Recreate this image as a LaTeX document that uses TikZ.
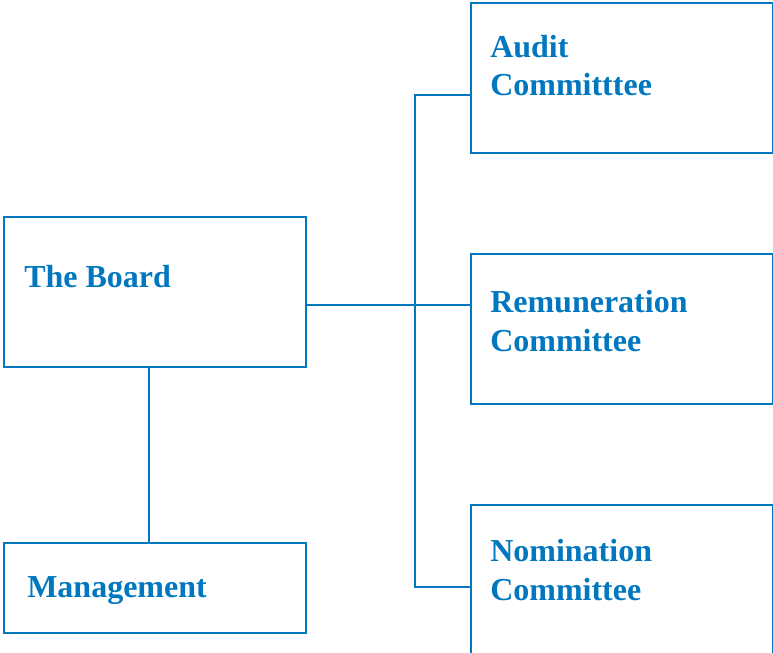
\documentclass[tikz,border=0pt]{standalone}
\usepackage{fontspec}
\setmainfont{Liberation Serif}
\usetikzlibrary{positioning}

\definecolor{boardblue}{RGB}{0,119,190}

\tikzset{
  unit/.style={draw=boardblue, line width=1.5pt, minimum width=226.5pt, inner sep=0pt},
  title/.style={anchor=base west, inner sep=0pt, align=left, text=boardblue,
    font=\fontsize{24}{29}\selectfont\bfseries},
  link/.style={draw=boardblue, line width=1.5pt}
}

\begin{document}
\begin{tikzpicture}[x=0.75pt, y=-0.75pt]
  \useasboundingbox (0,0) rectangle (773,652);

  % boxes
  \node [unit, minimum height=112.5pt, anchor=north west] (board) at (3,216) {};
  \node [unit, minimum height=67.5pt, anchor=north west] (mgmt) at (3,542) {};
  \node [unit, minimum height=112.5pt, anchor=north west] (audit) at (470,2) {};
  \node [unit, minimum height=112.5pt, anchor=north west] (remun) at (470,253) {};
  \node [unit, minimum height=112.5pt, anchor=north west] (nomin) at (470,504) {};

  % titles (base = last line)
  \node [title] (tboard) at (24,287) {The Board};
  \node [title] (tmgmt) at (27,597) {Management};
  \node [title] (taudit) at (490,96) {Audit\\Committtee};
  \node [title] (tremun) at (490,351) {Remuneration\\Committee};
  \node [title] (tnomin) at (490,600) {Nomination\\Committee};

  % connectors
  \coordinate (drop) at (149,366);
  \coordinate (hub) at (415,305);
  \coordinate (top) at (415,95);
  \coordinate (bot) at (415,587);
  \draw [link] (drop) -- (drop |- mgmt.north);
  \draw [link] (hub -| board.east) -- (hub -| remun.west);
  \draw [link] (top -| audit.west) -- (top) -- (bot) -- (bot -| nomin.west);
\end{tikzpicture}
\end{document}
